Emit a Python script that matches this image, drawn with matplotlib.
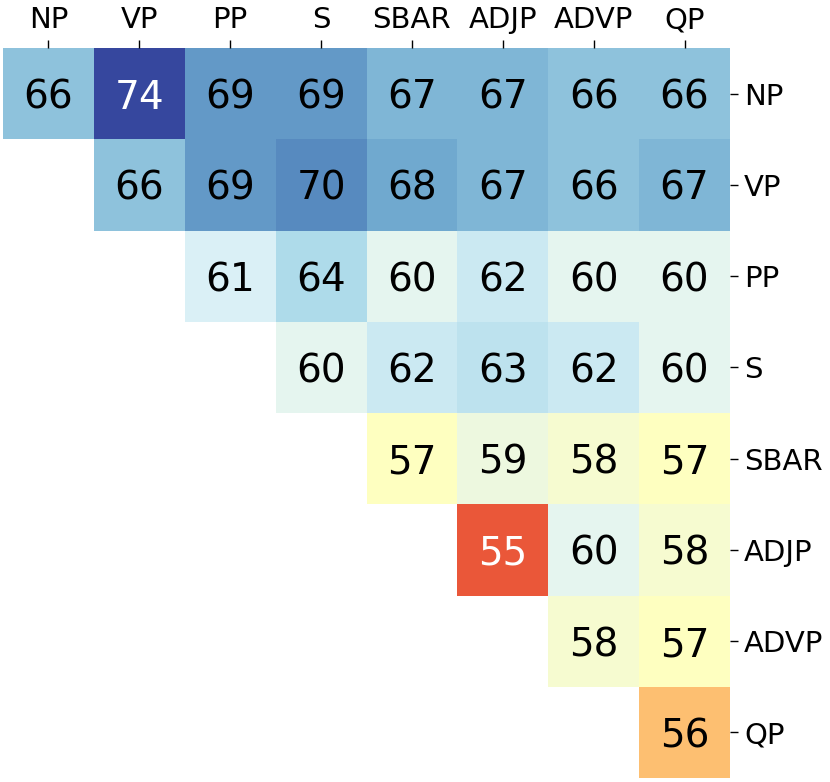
import numpy as np
import matplotlib
matplotlib.use('Agg')
import matplotlib.pyplot as plt
import matplotlib.colors as mcolors
import seaborn as sns

labels = ["NP", "VP", "PP", "S", "SBAR", "ADJP", "ADVP", "QP"]

# upper triangle, row by row (nan = not shown)
row_np = [66, 74, 69, 69, 67, 67, 66, 66]
row_vp = [np.nan, 66, 69, 70, 68, 67, 66, 67]
row_pp = [np.nan, np.nan, 61, 64, 60, 62, 60, 60]
row_s = [np.nan, np.nan, np.nan, 60, 62, 63, 62, 60]
row_sbar = [np.nan, np.nan, np.nan, np.nan, 57, 59, 58, 57]
row_adjp = [np.nan, np.nan, np.nan, np.nan, np.nan, 55, 60, 58]
row_advp = [np.nan, np.nan, np.nan, np.nan, np.nan, np.nan, 58, 57]
row_qp = [np.nan, np.nan, np.nan, np.nan, np.nan, np.nan, np.nan, 56]

scores = np.array([row_np, row_vp, row_pp, row_s,
                   row_sbar, row_adjp, row_advp, row_qp])
mask = np.isnan(scores)

fig = plt.figure(figsize=(8.3, 7.82), dpi=100)
ax = fig.add_axes([3 / 830, 1 - 778 / 782, 727 / 830, 730 / 782])

norm = mcolors.TwoSlopeNorm(vmin=54, vcenter=57, vmax=75)
sns.heatmap(scores, mask=mask, cmap="RdYlBu", norm=norm, annot=True, fmt=".0f",
            annot_kws={"size": 28, "va": "center_baseline"}, cbar=False,
            xticklabels=labels, yticklabels=labels, ax=ax)

# only the extreme cells get white numbers
hi, lo = np.nanmax(scores), np.nanmin(scores)
for t in ax.texts:
    v = float(t.get_text())
    t.set_color("white" if v in (hi, lo) else "black")

ax.xaxis.tick_top()
ax.yaxis.tick_right()
ax.tick_params(axis="both", labelsize=21, length=6, width=1, pad=4)
plt.setp(ax.get_xticklabels(), rotation=0)
plt.setp(ax.get_yticklabels(), rotation=0)

fig.savefig("out.png", dpi=100, facecolor="white")
